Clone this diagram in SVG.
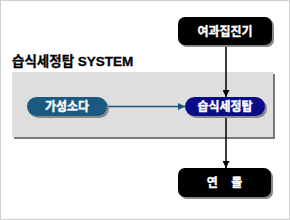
<svg xmlns="http://www.w3.org/2000/svg" width="290" height="220" viewBox="0 0 290 220">
<defs>
<style>
.lbl{font-family:"Liberation Sans","Noto Sans CJK KR",sans-serif;font-weight:bold;font-size:12px;fill:#fff;stroke:#fff;stroke-width:0.35;text-anchor:middle}
.title{font-family:"Liberation Sans","Noto Sans CJK KR",sans-serif;font-weight:bold;font-size:13.5px;fill:#000;stroke:#000;stroke-width:0.3}
.shadow{fill:#888}
</style>
<marker id="ahK" viewBox="0 0 10 10" refX="10" refY="5" markerWidth="7" markerHeight="7" markerUnits="userSpaceOnUse" orient="auto"><path d="M0,0 L10,5 L0,10 Z" fill="#000"/></marker>
<marker id="ahB" viewBox="0 0 10 10" refX="10" refY="5" markerWidth="7" markerHeight="7" markerUnits="userSpaceOnUse" orient="auto"><path d="M0,0 L10,5 L0,10 Z" fill="#1a5478"/></marker>
</defs>
<rect x="0.5" y="0.5" width="289" height="219" fill="#fff" stroke="#cfcfcf"/>
<g id="panel">
<rect x="14" y="74" width="261" height="65" fill="#7a7a7a"/>
<rect x="12" y="72" width="261" height="65" fill="#dedede"/>
<text class="title" x="12" y="66">습식세정탑 SYSTEM</text>
</g>
<g id="connectors">
<line x1="226" y1="45" x2="226" y2="97" stroke="#000" stroke-width="1.5" marker-end="url(#ahK)"/>
<line x1="226" y1="116" x2="226" y2="168" stroke="#000" stroke-width="1.5" marker-end="url(#ahK)"/>
<line x1="107" y1="106.5" x2="185" y2="106.5" stroke="#1a5478" stroke-width="1.5" marker-end="url(#ahB)"/>
</g>
<g id="node-filter">
<rect class="shadow" x="180" y="19" width="94" height="28" rx="7"/>
<rect x="178" y="17" width="94" height="28" rx="7" fill="#000"/>
<text class="lbl" x="225" y="35.5">여과집진기</text>
</g>
<g id="node-soda">
<rect class="shadow" x="29" y="99" width="80" height="19" rx="9.5"/>
<rect x="27" y="97" width="80" height="19" rx="9.5" fill="#1a5a80"/>
<text class="lbl" x="67" y="111">가성소다</text>
</g>
<g id="node-tower">
<rect class="shadow" x="187" y="99" width="80" height="19" rx="9.5"/>
<rect x="185" y="97" width="80" height="19" rx="9.5" fill="#0c0c88"/>
<text class="lbl" x="225" y="111">습식세정탑</text>
</g>
<g id="node-stack">
<rect class="shadow" x="180" y="170" width="93" height="29" rx="7"/>
<rect x="178" y="168" width="93" height="29" rx="7" fill="#000"/>
<text class="lbl" x="224.5" y="187" xml:space="preserve">연    돌</text>
</g>
</svg>
